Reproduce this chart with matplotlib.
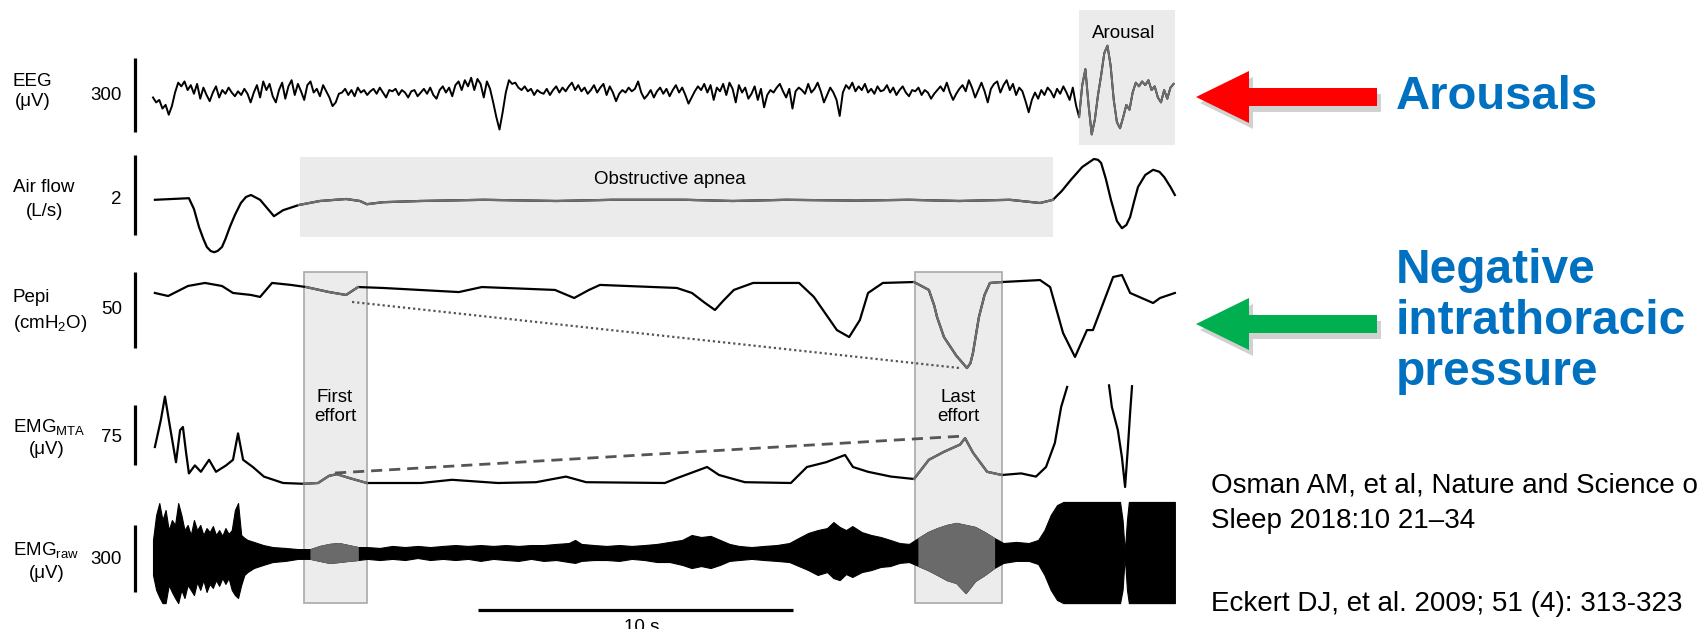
import numpy as np
import matplotlib.pyplot as plt
from matplotlib.patches import Rectangle, Polygon

plt.rcParams['font.family'] = ['Liberation Sans', 'DejaVu Sans']
plt.rcParams['mathtext.fontset'] = 'custom'
plt.rcParams['mathtext.rm'] = 'Liberation Sans'
plt.rcParams['mathtext.it'] = 'Liberation Sans:italic'
plt.rcParams['mathtext.bf'] = 'Liberation Sans:bold'

# ---- signals (time in s, values in channel units) ----
# EEG, uV, sampled every 0.1 s
eeg_uv = [
    -10, -30, -20, -55, -40, -80, -45, 10, 50, 35,
    55, 20, 40, 5, 45, -15, 30, 0, -25, 10,
    35, -10, 20, 5, 30, 10, -5, 15, 0, 25,
    5, -30, 10, 40, -10, 55, 20, 45, -5, -30,
    20, 50, -15, 35, 60, 0, 45, 15, -20, 40,
    55, 10, 25, -5, 40, 15, -10, -45, -30, 5,
    10, 25, 0, 20, -5, 30, 10, 20, 0, 15,
    25, 5, 30, 10, -10, 20, 15, 25, 0, 20,
    10, -10, 15, 20, -5, 10, 25, 5, 30, 0,
    -15, 20, 35, 10, 30, -5, 40, 55, 20, 60,
    35, 70, 20, 65, 45, -10, 55, 25, -30, -90,
    -140, -70, 10, 60, 45, 50, 30, 20, 35, 15,
    25, 0, 20, 10, 5, 25, 0, 20, 35, 10,
    30, 15, 35, 50, 20, 40, 15, 30, 5, 20,
    40, 10, 30, 45, 0, 35, 10, -25, 5, 20,
    10, 30, 15, 25, 55, 10, -15, 0, 20, -10,
    15, 30, 5, 25, -5, 20, 40, 10, 30, 0,
    -35, -10, 15, 35, 20, 45, 10, 40, -20, 30,
    15, 45, 0, 50, 25, -30, 40, 10, 30, -15,
    5, 35, -20, 25, -50, 0, 20, 10, 30, 45,
    15, -10, 25, -55, 15, 30, 20, 5, 45, 10,
    25, 50, 15, -30, 0, 30, 10, -20, -85, 10,
    40, 25, 50, 15, 35, 20, 45, 10, 25, 5,
    35, 15, 20, 40, 10, 30, 0, 20, 35, 10,
    -5, 20, 15, 30, 0, 20, 10, -15, 5, 20,
    35, 15, 50, 10, -20, 5, 25, 40, 15, 60,
    30, -10, 20, 50, 15, -30, 25, 45, 55, 10,
    40, 60, 20, 45, 0, 30, 15, -25, -70, -20,
    10, -15, 20, 0, 30, 15, -10, 25, 5, 35,
    10, -20, 30, -40, -90, 40, 105, -40, -160, -100,
    0, 80, 170, 200, 120, -20, -110, -135, -90, -40,
    -60, 10, 50, 35, 55, 40, 60, 20, 35, -10,
    -30, 20, -15, 30, 45,
]
eeg_t = np.arange(len(eeg_uv)) * 0.1

# Air flow, L/s
air_t = [0.06, 1.14, 1.3, 1.46, 1.6, 1.71, 1.83, 1.94, 2.05, 2.19, 2.3, 2.44, 2.6,
         2.79, 2.95, 3.11, 3.40, 3.84, 4.13, 4.63, 5.30, 6.13, 6.57, 6.79, 7.30, 8.48,
         10.5, 12.8, 14.6, 16.9, 18.4, 20.1, 22.3, 24.0, 25.6, 27.2, 28.16, 28.57,
         28.85, 29.14, 29.5, 29.87, 30.0, 30.10, 30.25, 30.41, 30.6, 30.76, 30.9,
         31.02, 31.15, 31.27, 31.5, 31.75, 31.95, 32.10, 32.3, 32.44]
air_ls = [-0.12, -0.08, -0.35, -0.80, -1.10, -1.30, -1.40, -1.43, -1.40, -1.30, -1.10,
          -0.80, -0.50, -0.20, -0.05, 0.0, -0.12, -0.53, -0.38, -0.25, -0.15, -0.10,
          -0.15, -0.23, -0.18, -0.15, -0.12, -0.15, -0.12, -0.12, -0.15, -0.12, -0.14,
          -0.12, -0.15, -0.12, -0.20, -0.12, 0.10, 0.38, 0.70, 0.90, 0.88, 0.80, 0.40,
          -0.12, -0.65, -0.83, -0.75, -0.55, -0.15, 0.20, 0.50, 0.63, 0.58, 0.45, 0.20,
          0.0]

# Pepi, cmH2O
pepi_t = [0.06, 0.48, 1.11, 1.65, 2.19, 2.54, 3.11, 3.40, 3.78, 4.38, 4.86, 5.59, 6.13,
          6.51, 7.30, 9.71, 10.44, 12.76, 13.37, 13.84, 14.19, 16.63, 17.11, 17.5,
          17.84, 18.1, 18.44, 19.05, 20.51, 20.98, 21.49, 21.71, 22.10, 22.44, 22.70,
          23.17, 24.16, 24.63, 24.8, 24.89, 25.11, 25.5, 25.84, 25.95, 26.03, 26.22,
          26.4, 26.57, 26.95, 28.16, 28.48, 28.89, 29.27, 29.65, 29.84, 30.48, 30.76,
          31.02, 31.75, 31.97, 32.44]
pepi_cm = [11.2, 9.2, 15.8, 17.8, 15.8, 11.2, 9.9, 8.6, 17.8, 16.5, 15.1, 11.8, 9.9,
           15.1, 14.5, 11.8, 15.1, 13.2, 7.9, 13.2, 16.5, 14.5, 11.2, 5.0,
           0.0, 6.0, 13.2, 17.8, 17.8, 8.6, -6.6, -13.2, -17.8, -6.6, 11.2,
           17.8, 18.4, 13.2, 3.0, -4.6, -17.8, -30.0, -38.2, -35.0, -28.3, -4.6,
           10.0, 17.8, 18.4, 19.7, 15.1, -15.1, -30.9, -13.2, -13.2, 21.7, 23.0,
           11.2, 4.6, 7.9, 11.2]

# EMG moving time average, uV (NaN = trace off scale)
mta_t = [0.06, 0.25, 0.38, 0.54, 0.73, 0.86, 0.95, 1.05, 1.14, 1.33, 1.52, 1.78, 2.0,
         2.32, 2.54, 2.70, 2.86, 3.17, 3.52, 4.13, 4.79, 5.24, 5.59, 5.84, 6.25, 6.79,
         8.51, 9.49, 10.95, 12.16, 13.11, 13.75, 16.25, 16.63, 17.59, 17.97, 18.79,
         20.25, 20.76, 21.37, 21.97, 22.22, 22.70, 23.43, 24.16, 24.63, 25.11, 25.62,
         25.78, 26.03, 26.48, 26.95, 27.56, 28.03, 28.35, 28.63, 28.83, 29.02, 29.5,
         30.35, 30.44, 30.63, 30.76, 30.86, 30.95, 31.02, 31.08]
mta_uv = [-15, 19, 48, 10, -34, 6, 10, -22, -48, -38, -46, -31, -46,
          -38, -31, 2, -31, -40, -52, -60, -61, -60, -51, -49, -54, -60,
          -60, -56, -60, -59, -52, -59, -60, -54, -40, -50, -59,
          -60, -40, -34, -25, -40, -46, -52, -55, -31, -21, -12,
          -4, -22, -46, -50, -48, -52, -40, -10, 35, 60, np.nan,
          62, 35, 6, -28, -65, -15, 28, 61]

# raw EMG envelope, uV
raw_t = [0.0, 0.1, 0.2, 0.3, 0.4, 0.5, 0.6, 0.7, 0.8, 0.9, 1.0, 1.1, 1.2, 1.3, 1.4,
         1.5, 1.6, 1.7, 1.8, 1.9, 2.0, 2.1, 2.2, 2.3, 2.4, 2.5, 2.6, 2.7, 2.8, 2.9,
         3.0, 3.2, 3.5, 3.8, 4.2, 4.6, 5.0, 5.3, 5.6, 5.9, 6.2, 6.5, 6.8, 7.2, 7.6,
         8.0, 8.4, 8.8, 9.2, 9.6, 10.0, 10.4, 10.8, 11.2, 11.6, 12.0, 12.4, 12.8,
         13.2, 13.4, 13.6, 14.0, 14.4, 14.8, 15.2, 15.6, 16.0, 16.4, 16.8, 17.1,
         17.4, 17.7, 18.0, 18.3, 18.6, 19.0, 19.4, 19.8, 20.2, 20.5, 20.8, 21.1,
         21.4, 21.6, 21.8, 22.0, 22.2, 22.5, 22.8, 23.1, 23.4, 23.7, 24.0, 24.3,
         24.6, 24.9, 25.2, 25.5, 25.8, 26.1, 26.4, 26.7, 27.0, 27.4, 27.8, 28.1,
         28.3, 28.5, 28.7, 28.9, 30.7, 30.78, 30.85, 30.92, 30.98, 32.44]
raw_hi = [81, 193, 246, 170, 215, 125, 170, 148, 246, 193, 125, 148, 103, 170, 125,
          148, 103, 134, 116, 143, 103, 125, 99, 134, 108, 125, 215, 246, 103, 90,
          81, 72, 58, 49, 45, 40, 40, 54, 63, 67, 58, 49, 49, 45, 54,
          49, 54, 49, 54, 58, 54, 58, 54, 58, 54, 58, 58, 63,
          67, 81, 63, 58, 54, 58, 54, 58, 63, 72, 81, 103,
          94, 99, 81, 63, 54, 49, 54, 58, 67, 90, 112, 125,
          134, 161, 139, 125, 143, 116, 103, 94, 81, 67, 63, 90,
          116, 134, 148, 157, 148, 139, 116, 90, 67, 72, 67, 81,
          125, 193, 237, 251, 251, 170, 27, 170, 251, 251]
raw_lo = [-76, -143, -175, -202, -202, -121, -152, -179, -202, -143, -179, -121, -143, -166, -108,
          -143, -99, -152, -116, -134, -99, -125, -90, -116, -90, -143, -166, -179, -121, -76,
          -63, -45, -31, -18, -13, -4, -4, -13, -22, -18, -13, -9, -4, -9, -4,
          -9, 0, -9, -4, -9, -4, -13, -4, -9, -13, -4, -13, -9,
          -18, -22, -13, -9, -9, -13, -4, -9, -18, -18, -31, -45,
          -36, -45, -31, -13, -9, -4, -9, -13, -18, -36, -54, -76,
          -63, -90, -99, -72, -85, -63, -54, -40, -36, -22, -18, -36,
          -54, -76, -99, -112, -157, -103, -76, -45, -22, -13, -13, -27,
          -76, -143, -188, -202, -202, -143, 9, -143, -202, -202]

# shaded events (s)
apnea = (4.67, 28.57)
arousal = (29.4, 32.44)
first_effort = (4.79, 6.79)
last_effort = (24.19, 26.95)

# ---- layout: pixel geometry of the original slide ----
W, H = 1699, 629
X0, PXS = 153, 31.5          # x pixel of t=0, pixels per second
# row centre (px), gain (px per unit), scale-bar value
rows = {
    'eeg': (95, 74 / 300, 300),
    'air': (195, 80 / 2, 2),
    'pepi': (310, 76 / 50, 50),
    'mta': (435, 60 / 75, 75),
    'raw': (558, 67 / 300, 300),
}


def ypos(row, v):
    c, g, _ = rows[row]
    return c - np.asarray(v, dtype=float) * g


def tx(px):
    return (px - X0) / PXS


fig = plt.figure(figsize=(W / 100, H / 100), dpi=100)
ax = fig.add_axes([0, 0, 1, 1])
ax.set_xlim(tx(0), tx(W))
ax.set_ylim(H, 0)
ax.axis('off')

box_c = '#ebebeb'
ax.add_patch(Rectangle((apnea[0], 157), apnea[1] - apnea[0], 80, fc=box_c, ec='none', zorder=0))
ax.add_patch(Rectangle((arousal[0], 10), arousal[1] - arousal[0], 135, fc=box_c, ec='none', zorder=0))
for a, b in (first_effort, last_effort):
    ax.add_patch(Rectangle((a, 272), b - a, 331, fc='#ececec', ec='#a9a9a9', lw=1.2, zorder=0))


def trace(row, t, v, spans, lw=1.5):
    t = np.asarray(t, dtype=float)
    y = ypos(row, v)
    ax.plot(t, y, color='black', lw=lw, zorder=3)
    for a, b in spans:
        m = (t >= a - 0.05) & (t <= b + 0.05)
        ax.plot(np.where(m, t, np.nan), np.where(m, y, np.nan), color='#6e6e6e', lw=lw, zorder=4)


trace('eeg', eeg_t, eeg_uv, [arousal], lw=1.4)
trace('air', air_t, air_ls, [apnea], lw=1.6)
trace('pepi', pepi_t, pepi_cm, [first_effort, last_effort], lw=1.6)
trace('mta', mta_t, mta_uv, [first_effort, last_effort], lw=1.6)

rt = np.asarray(raw_t)
ax.fill_between(rt, ypos('raw', raw_lo), ypos('raw', raw_hi), color='black', lw=0.8, zorder=3)
for a, b in (first_effort, last_effort):
    m = (rt >= a) & (rt <= b)
    ax.fill_between(rt, ypos('raw', raw_lo), ypos('raw', raw_hi), where=m, color='#6a6a6a',
                    lw=0.8, zorder=4)

# effort connecting lines
ax.plot([6.32, 25.62], ypos('pepi', [5.3, -38.2]), color='#555555', lw=1.6,
        ls=(0, (1, 1.3)), zorder=5)
ax.plot([5.78, 25.78], ypos('mta', [-47.5, -1.2]), color='#555555', lw=2.0,
        ls=(0, (4, 2.5)), zorder=5)

# vertical scale bars
for key in rows:
    c, g, val = rows[key]
    ax.plot([tx(135), tx(135)], [c - val * g / 2, c + val * g / 2], color='black', lw=2.3,
            solid_capstyle='butt')
# time scale bar
ax.plot([tx(478), tx(478) + 10], [610, 610], color='black', lw=2.3, solid_capstyle='butt')


def ftext(x, y, s, **kw):
    kw.setdefault('fontsize', 13.5)
    kw.setdefault('va', 'center')
    fig.text(x / W, 1 - y / H, s, **kw)


# channel labels
ftext(13, 81, 'EEG')
ftext(33, 101, '(μV)', ha='center')
ftext(13, 188, 'Air flow')
ftext(45, 212, '(L/s)', ha='center')
ftext(13, 297, 'Pepi')
ftext(13, 323, '(cmH$_2$O)')
ftext(13, 427, 'EMG$_{\\mathrm{MTA}}$')
ftext(47, 449, '(μV)', ha='center')
ftext(13, 550, 'EMG$_{\\mathrm{raw}}$')
ftext(47, 573, '(μV)', ha='center')
for key, ycen in (('eeg', 95), ('air', 200), ('pepi', 310), ('mta', 437), ('raw', 560)):
    ftext(122, ycen, str(rows[key][2]), ha='right')

ftext(670, 179, 'Obstructive apnea', ha='center')
ftext(1124, 33, 'Arousal', ha='center')
ftext(335, 407, 'First\neffort', ha='center', linespacing=1.15)
ftext(958, 407, 'Last\neffort', ha='center', linespacing=1.15)
ftext(642, 619, '10 s', ha='center', va='top')

# arrows
def arrow(yc, color):
    pts = [(1196, yc), (1249, yc - 26), (1249, yc - 9), (1377, yc - 9),
           (1377, yc + 9), (1249, yc + 9), (1249, yc + 26)]
    shadow = [(x / W + 4 / W, 1 - (y + 6) / H) for x, y in pts]
    fig.add_artist(Polygon(shadow, closed=True, fc='#9a9a9a', ec='none', alpha=0.45,
                           transform=fig.transFigure))
    fig.add_artist(Polygon([(x / W, 1 - y / H) for x, y in pts], closed=True, fc=color,
                           ec='none', transform=fig.transFigure))


arrow(97, '#ff0000')
arrow(324, '#00b050')

blue = '#0070c0'
ftext(1396, 97, 'Arousals', fontsize=34, fontweight='bold', color=blue)
ftext(1396, 248, 'Negative\nintrathoracic\npressure', fontsize=34.5, fontweight='bold',
      color=blue, va='top', linespacing=1.17)

ftext(1211, 486, 'Osman AM, et al, Nature and Science of', fontsize=20)
ftext(1211, 521, 'Sleep 2018:10 21–34', fontsize=20)
ftext(1211, 604, 'Eckert DJ, et al. 2009; 51 (4): 313-323', fontsize=20)

fig.savefig('out.png', dpi=100)
